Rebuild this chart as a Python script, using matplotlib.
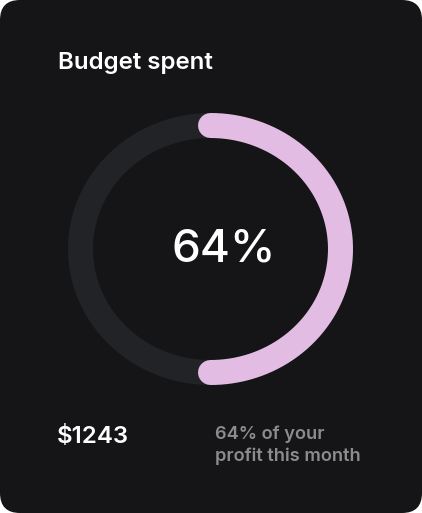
import numpy as np
import matplotlib
matplotlib.use("Agg")
import matplotlib.pyplot as plt
from matplotlib.patches import FancyBboxPatch

# ---- data ----
title = "Budget spent"
percent_label = 64            # value printed in the centre
arc_fraction = 0.50           # share of the ring drawn in pink (as seen in the picture)
amount_label = "$1243"
caption_lines = ["64% of your", "profit this month"]

# ---- style ----
W, H = 422, 513
BG = "#151517"
TRACK = "#222327"
PINK = "#E3BCE3"
GREY = "#8C8C8C"
FONT = ["Inter", "DejaVu Sans"]

fig = plt.figure(figsize=(W / 100, H / 100), dpi=100)
fig.patch.set_facecolor("white")
ax = fig.add_axes([0, 0, 1, 1])
ax.set_xlim(0, W)
ax.set_ylim(H, 0)
ax.axis("off")

card = FancyBboxPatch((0, 0), W, H, boxstyle="round,pad=0,rounding_size=20",
                      facecolor=BG, edgecolor="none")
ax.add_patch(card)

cx, cy = 210.5, 249
rx, ry = 130, 123.5
lw_pt = 25 * 72 / 100

t = np.linspace(0, 2 * np.pi, 400)
ax.plot(cx + rx * np.cos(t), cy - ry * np.sin(t), color=TRACK, lw=lw_pt,
        solid_capstyle="butt")

t2 = np.linspace(np.pi / 2, np.pi / 2 - 2 * np.pi * arc_fraction, 300)
ax.plot(cx + rx * np.cos(t2), cy - ry * np.sin(t2), color=PINK, lw=lw_pt,
        solid_capstyle="round")

ax.text(58, 63, title, color="white", fontsize=17.3, fontweight="semibold",
        family=FONT, ha="left", va="center")
ax.text(224, 250, f"{percent_label}%", color="white", fontsize=33,
        fontweight="medium", family=FONT, ha="center", va="center")
ax.text(57, 437, amount_label, color="white", fontsize=17.3,
        fontweight="semibold", family=FONT, ha="left", va="center")
ax.text(215, 434, caption_lines[0], color=GREY, fontsize=13.1,
        fontweight="semibold", family=FONT, ha="left", va="center")
ax.text(215, 456, caption_lines[1], color=GREY, fontsize=13.1,
        fontweight="semibold", family=FONT, ha="left", va="center")

fig.savefig("out.png", dpi=100, facecolor=fig.get_facecolor())
